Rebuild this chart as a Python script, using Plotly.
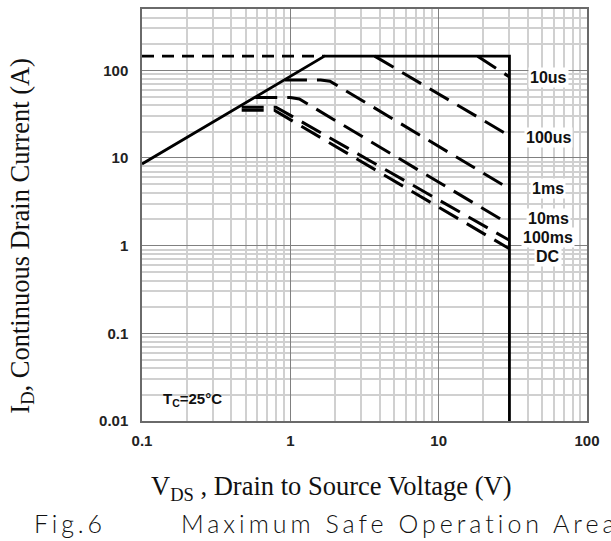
import numpy as np
import plotly.graph_objects as go

# ---------------- data (V in volts, I in amperes) ----------------
boundary_v = [0.1, 1.7, 30, 30]
boundary_i = [8.55, 145, 145, 0.01]

limit_v = [0.1, 1.7]
limit_i = [145, 145]

us10_v = [18.3, 30]
us10_i = [145, 84]

us100_v = [3.7, 30]
us100_i = [145, 17.9]

ms1_v = [0.92, 1.6, 1.85, 30]
ms1_i = [77.6, 77.6, 75, 4.45]

ms10_v = [0.58, 1.0, 1.15, 30]
ms10_i = [49, 49, 47, 1.75]

ms100_v = [0.47, 0.8, 30]
ms100_i = [38, 38, 1.15]

dc_v = [0.47, 0.78, 30]
dc_i = [35, 35, 0.92]

curve_labels = ["10us", "100us", "1ms", "10ms", "100ms", "DC"]
label_i = [82, 17.1, 4.5, 2.03, 1.23, 0.755]
label_v = 55

x_ticks = [0.1, 1, 10, 100]
x_ticktext = ["0.1", "1", "10", "100"]
y_ticks = [0.01, 0.1, 1, 10, 100]
y_ticktext = ["0.01", "0.1", "1", "10", "100"]

# ---------------- figure ----------------
W, H = 611, 541
L, R, T, B = 142.3, 587.5, 7.3, 420.7

fig = go.Figure()

DASH = "22px,10px"

def add(v, i, dash, width=3):
    fig.add_trace(go.Scatter(x=v, y=i, mode="lines",
                             line=dict(color="black", width=width, dash=dash),
                             showlegend=False, hoverinfo="skip"))

add(limit_v, limit_i, "12px,8px", 2.6)
add(us10_v, us10_i, DASH)
add(us100_v, us100_i, DASH)
add(ms1_v, ms1_i, DASH)
add(ms10_v, ms10_i, DASH)
add(ms100_v, ms100_i, DASH)
add(dc_v, dc_i, DASH)
add(boundary_v, boundary_i, "solid", 2.8)

minor_x = [k * 10.0 ** e for e in (-1, 0, 1) for k in range(2, 10)]
minor_y = [k * 10.0 ** e for e in (-2, -1, 0, 1, 2) for k in range(2, 10)]

tickfont = dict(family="Liberation Sans, Arial", size=15, color="#222222", weight="bold")

fig.update_xaxes(type="log", range=[-1, 2], tickvals=x_ticks, ticktext=x_ticktext,
                 showgrid=True, gridcolor="#808080", gridwidth=1,
                 minor=dict(tickvals=minor_x, showgrid=True, gridcolor="#d0d0d0", gridwidth=1.5),
                 showline=True, linecolor="#6a6a6a", linewidth=1.5, mirror=True,
                 ticks="", tickfont=tickfont, ticklabelstandoff=5, zeroline=False)
fig.update_yaxes(type="log", range=[-2, np.log10(500)], tickvals=y_ticks, ticktext=y_ticktext,
                 showgrid=True, gridcolor="#808080", gridwidth=1,
                 minor=dict(tickvals=minor_y, showgrid=True, gridcolor="#d0d0d0", gridwidth=1.5),
                 showline=True, linecolor="#6a6a6a", linewidth=1.5, mirror=True,
                 ticks="", tickfont=tickfont, ticklabelstandoff=9, zeroline=False)

def px(x):
    return (x - L) / (R - L)

def py(y):
    return (B - y) / (B - T)

ann = []
for txt, yi in zip(curve_labels, label_i):
    ann.append(dict(x=np.log10(label_v), y=np.log10(yi), xref="x", yref="y", text=txt,
                    xanchor="center", yanchor="middle",
                    showarrow=False, bgcolor="white", borderpad=1,
                    font=dict(family="Liberation Sans, Arial", size=16, color="#111111", weight="bold")))

ann.append(dict(x=px(192.5), y=py(399), xref="paper", yref="paper",
                xanchor="center", yanchor="middle",
                text="T<sub>C</sub>=25°C", showarrow=False,
                font=dict(family="Liberation Sans, Arial", size=15, color="#111111", weight="bold")))

ann.append(dict(x=px(332), y=py(488), xref="paper", yref="paper",
                xanchor="center", yanchor="middle",
                text="V<sub>DS</sub> , Drain to Source Voltage (V)", showarrow=False,
                font=dict(family="Liberation Serif, Times New Roman", size=26.5, color="#111111")))

ann.append(dict(x=px(22), y=py(235), xref="paper", yref="paper", textangle=-90,
                xanchor="center", yanchor="middle",
                text="I<sub>D</sub>, Continuous Drain Current (A)", showarrow=False,
                font=dict(family="Liberation Serif, Times New Roman", size=26.5, color="#111111")))

capfont = dict(family="Lato, DejaVu Sans", size=25, color="#111111", weight=300)
ann.append(dict(x=px(32.7), y=py(523), xref="paper", yref="paper",
                xanchor="left", yanchor="middle",
                text='<span style="letter-spacing:3.8px">Fig.6</span>', showarrow=False, font=capfont))
ann.append(dict(x=px(179.3), y=py(523), xref="paper", yref="paper",
                xanchor="left", yanchor="middle",
                text='<span style="letter-spacing:4px">Maximum Safe Operation Area</span>',
                showarrow=False, font=capfont))

fig.update_layout(width=W, height=H,
                  margin=dict(l=L, r=W - R, t=T, b=H - B, pad=0),
                  paper_bgcolor="white", plot_bgcolor="white",
                  annotations=ann, showlegend=False)

fig.write_html("out.html")
